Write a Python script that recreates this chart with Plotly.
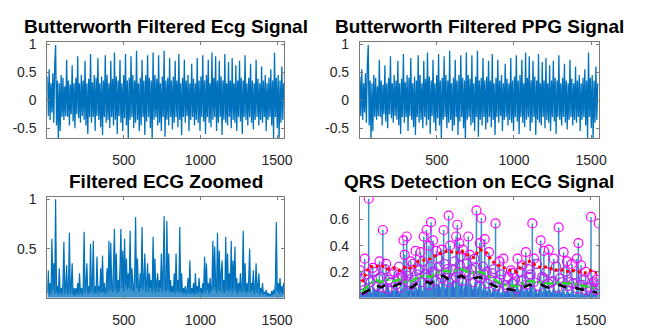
import plotly.graph_objects as go
from plotly.subplots import make_subplots

ecg_filtered = [
    0.42,-0.28,0.55,-0.35,0.30,-0.22,0.48,-0.40,0.62,0.98,
    -0.45,0.35,-0.72,0.30,-0.55,0.45,-0.30,0.40,-0.35,0.25,
    -0.28,0.72,-0.30,0.35,-0.45,0.28,-0.25,0.62,-0.38,0.30,
    -0.50,0.40,-0.25,0.78,-0.32,0.30,-0.40,0.45,-0.28,0.35,
    -0.35,0.70,-0.45,0.30,-0.60,0.38,-0.30,0.82,-0.40,0.32,
    -0.30,0.45,-0.55,0.40,-0.28,0.75,-0.35,0.30,-0.48,0.42,
    -0.62,0.35,-0.30,0.80,-0.40,0.45,-0.35,0.30,-0.50,0.70,
    -0.30,0.38,-0.45,0.85,-0.35,0.42,-0.60,0.35,-0.28,0.72,
    -0.40,0.30,-0.55,0.45,-0.32,0.82,-0.45,0.35,-0.68,0.40,
    -0.35,0.78,-0.30,0.45,-0.50,0.35,-0.40,0.88,-0.35,0.30,
    -0.55,0.40,-0.45,0.72,-0.30,0.35,-0.62,0.45,-0.38,0.80,
    -0.30,0.40,-0.50,0.35,-0.72,0.85,-0.35,0.45,-0.30,0.38,
    -0.45,0.80,-0.40,0.30,-0.55,0.42,-0.30,0.88,-0.65,0.35,
    -0.35,0.40,-0.45,0.75,-0.30,0.35,-0.52,0.42,-0.40,0.70,
    -0.30,0.35,-0.48,0.82,-0.35,0.30,-0.62,0.40,-0.30,0.72,
    -0.40,0.35,-0.28,0.45,-0.55,0.30,-0.35,0.65,-0.30,0.38,
    -0.45,0.30,-0.35,0.75,-0.40,0.35,-0.55,0.42,-0.30,0.80,
    -0.38,0.35,-0.60,0.45,-0.30,0.72,-0.40,0.30,-0.48,0.85,
    -0.35,0.40,-0.30,0.78,-0.55,0.35,-0.40,0.70,-0.30,0.42,
    -0.62,0.35,-0.35,0.82,-0.40,0.30,-0.45,0.68,-0.30,0.35,
    -0.50,0.75,-0.35,0.30,-0.40,0.62,-0.55,0.35,-0.30,0.70,
    -0.38,0.40,-0.60,0.35,-0.30,0.80,-0.35,0.30,-0.45,0.40,
    -0.30,0.65,-0.40,0.35,-0.52,0.30,-0.35,0.72,-0.30,0.38,
    -0.45,0.30,-0.35,0.60,-0.40,0.35,-0.30,0.45,-0.55,0.30,
    -0.35,0.40,-0.30,0.55,-0.45,0.35,-0.68,0.85,-0.30,0.40,
    -0.50,0.45,-0.72,0.35,-0.40,0.60,-0.35,0.30,
]
ppg_filtered = list(ecg_filtered)   # the PPG panel shows the same trace

ecg_zoomed = [
    0.05,0.28,0.03,0.15,0.04,0.60,0.08,0.35,0.04,1.00,
    0.06,0.12,0.03,0.30,0.05,0.10,0.03,0.15,0.57,0.04,
    0.12,0.33,0.03,0.10,0.66,0.04,0.12,0.35,0.03,0.10,
    0.02,0.10,0.04,0.15,0.03,0.25,0.05,0.10,0.03,0.12,
    0.67,0.05,0.15,0.35,0.04,0.12,0.05,0.55,0.06,0.15,
    0.58,0.04,0.12,0.05,0.42,0.04,0.12,0.06,0.30,0.05,
    0.43,0.06,0.15,0.04,0.10,0.30,0.05,0.58,0.08,0.56,
    0.10,0.06,0.35,0.70,0.08,0.45,0.05,0.18,0.06,0.30,
    0.70,0.10,0.48,0.06,0.60,0.12,0.40,0.08,0.25,0.10,
    0.68,0.08,0.30,0.12,0.06,0.25,0.82,0.10,0.40,0.12,
    0.06,0.25,0.10,0.72,0.08,0.20,0.45,0.06,0.15,0.35,
    0.06,0.25,0.10,0.18,0.05,0.62,0.08,0.40,0.05,0.15,
    0.25,0.06,0.18,0.10,0.45,0.06,0.30,0.83,0.10,0.06,
    0.78,0.08,0.45,0.06,0.18,0.05,0.12,0.06,0.25,0.04,
    0.45,0.06,0.18,0.05,0.72,0.06,0.25,0.04,0.10,0.05,
    0.12,0.03,0.08,0.20,0.04,0.38,0.04,0.10,0.05,0.15,
    0.03,0.25,0.05,0.12,0.04,0.20,0.06,0.10,0.03,0.15,
    0.06,0.42,0.05,0.35,0.08,0.15,0.04,0.20,0.06,0.12,
    0.58,0.08,0.52,0.12,0.05,0.66,0.08,0.48,0.06,0.25,
    0.38,0.06,0.18,0.05,0.62,0.08,0.45,0.06,0.25,0.08,
    0.58,0.05,0.38,0.08,0.52,0.06,0.20,0.04,0.15,0.08,
    0.25,0.05,0.12,0.68,0.06,0.35,0.04,0.15,0.06,0.20,
    0.50,0.05,0.15,0.08,0.28,0.04,0.10,0.35,0.05,0.12,
    0.25,0.03,0.10,0.05,0.15,0.03,0.06,0.04,0.08,0.02,
    0.05,0.02,0.04,0.02,0.07,0.03,0.08,0.04,0.15,0.77,
    0.06,0.15,0.04,0.20,0.05,0.12,0.03,0.15,
]
sample_step = 6

# QRS panel: integrated signal low band (every 15 samples)
int_base = [
    0.06,0.02,0.09,0.03,0.12,0.02,0.08,0.04,0.10,0.02,
    0.07,0.03,0.11,0.02,0.06,0.04,0.09,0.02,0.08,0.03,
    0.10,0.04,0.12,0.03,0.09,0.05,0.13,0.03,0.10,0.04,
    0.12,0.05,0.14,0.04,0.11,0.06,0.15,0.05,0.12,0.04,
    0.13,0.06,0.16,0.05,0.12,0.04,0.14,0.05,0.11,0.04,
    0.13,0.05,0.12,0.04,0.10,0.03,0.09,0.02,0.08,0.03,
    0.07,0.02,0.06,0.03,0.08,0.02,0.07,0.03,0.09,0.04,
    0.10,0.03,0.08,0.04,0.09,0.03,0.07,0.02,0.08,0.03,
    0.09,0.04,0.07,0.03,0.08,0.02,0.07,0.03,0.06,0.02,
    0.05,0.02,0.06,0.01,0.05,0.02,0.04,0.01,0.05,0.02,
    0.04,0.02,0.03,0.02,
]
int_step = 15

# detected peaks (magenta circles, with stems)
qrs_x = [2,32,58,85,128,150,171,224,271,284,292,305,331,363,395,416,434,449,463,476,
         498,532,545,577,587,626,634,647,669,705,716,758,780,790,812,839,882,908,933,
         982,993,1025,1057,1079,1121,1132,1175,1196,1228,1260,1292,1324,1346,1378,
         1410,1420,1438,1467,1502,1510,1538,1549,1553]
qrs_y = [0.21,0.30,0.76,0.23,0.28,0.52,0.26,0.20,0.17,0.44,0.33,0.47,0.28,0.36,0.35,0.47,
         0.52,0.40,0.58,0.44,0.36,0.37,0.52,0.63,0.40,0.47,0.56,0.42,0.37,0.47,0.33,0.67,
         0.42,0.61,0.45,0.35,0.57,0.28,0.30,0.21,0.19,0.30,0.25,0.35,0.57,0.30,0.44,0.36,
         0.37,0.30,0.54,0.35,0.28,0.26,0.30,0.42,0.25,0.20,0.62,0.17,0.14,0.07,0.57]

# smaller (noise) peaks, also marked with circles
noise_x = [10,40,70,95,120,145,165,190,210,235,255,280,300,320,345,370,390,410,440,460,
           485,510,525,550,570,595,615,640,655,680,695,725,745,770,800,825,850,870,895,
           920,945,965,1000,1040,1065,1095,1110,1150,1185,1210,1245,1275,1300,1335,1360,
           1395,1430,1455,1480,1520,1545,
           25,55,110,135,180,200,245,265,310,335,355,380,400,425,450,470,495,515,535,560,
           580,605,625,650,665,690,710,735,755,785,810,830,860,885,910,955,990,1020,1050,
           1080,1100,1130,1160,1195,1225,1255,1285,1315,1350,1385,1415,1445,1470,1500,1530]
noise_y = [0.10,0.18,0.12,0.20,0.15,0.08,0.22,0.14,0.18,0.10,0.24,0.16,0.20,0.12,0.26,
           0.18,0.22,0.28,0.16,0.24,0.20,0.30,0.18,0.26,0.22,0.14,0.28,0.20,0.32,0.18,
           0.26,0.22,0.30,0.16,0.24,0.20,0.14,0.22,0.12,0.18,0.10,0.16,0.12,0.20,0.14,
           0.22,0.18,0.26,0.16,0.20,0.12,0.24,0.15,0.20,0.12,0.18,0.10,0.14,0.08,0.12,0.10,
           0.06,0.14,0.09,0.16,0.07,0.12,0.15,0.08,0.17,0.10,0.14,0.21,0.12,0.18,0.10,0.20,
           0.13,0.24,0.15,0.19,0.12,0.22,0.16,0.25,0.13,0.20,0.17,0.12,0.23,0.15,0.18,0.11,
           0.19,0.09,0.14,0.08,0.11,0.07,0.13,0.10,0.16,0.12,0.09,0.15,0.11,0.13,0.08,0.12,
           0.09,0.11,0.07,0.10,0.06,0.08,0.06]

# adaptive levels at the peak locations
locs = [15,60,100,140,180,220,260,300,340,380,420,460,500,540,580,620,660,700,740,780,
        820,860,900,940,980,1020,1060,1100,1140,1180,1220,1260,1300,1340,1380,1420,1460,
        1500,1540]
noise_lvl = [0.03,0.06,0.10,0.08,0.11,0.09,0.11,0.09,0.08,0.12,0.13,0.11,0.15,0.17,0.14,
             0.15,0.17,0.14,0.15,0.16,0.13,0.10,0.08,0.07,0.065,0.055,0.08,0.10,0.09,0.10,
             0.08,0.09,0.10,0.08,0.085,0.07,0.06,0.045,0.04]
thr_lvl = [0.05,0.10,0.14,0.12,0.14,0.13,0.14,0.12,0.13,0.16,0.17,0.16,0.19,0.21,0.20,
           0.21,0.22,0.20,0.19,0.20,0.18,0.15,0.12,0.10,0.09,0.09,0.11,0.13,0.12,0.12,
           0.11,0.11,0.12,0.11,0.11,0.10,0.09,0.08,0.07]
sig_lvl = [0.12,0.24,0.24,0.25,0.22,0.23,0.21,0.24,0.22,0.28,0.29,0.30,0.33,0.35,0.36,
           0.34,0.36,0.33,0.31,0.37,0.35,0.28,0.25,0.23,0.21,0.20,0.26,0.28,0.25,0.23,
           0.24,0.21,0.22,0.20,0.21,0.20,0.19,0.21,0.19]

titles = ["Butterworth Filtered Ecg Signal", "Butterworth Filtered PPG Signal",
          "Filtered ECG Zoomed", "QRS Detection on ECG Signal"]

# ---------------- figure -------------
BLUE = "#0072BD"
FONT = "Liberation Sans, Arial, Helvetica, sans-serif"

fig = make_subplots(rows=2, cols=2)

xs6 = [1 + sample_step * i for i in range(len(ecg_filtered))]
fig.add_trace(go.Scatter(x=xs6, y=ecg_filtered, mode="lines",
                         line=dict(color=BLUE, width=1.3, simplify=False)), row=1, col=1)
fig.add_trace(go.Scatter(x=xs6, y=ppg_filtered, mode="lines",
                         line=dict(color=BLUE, width=1.3, simplify=False)), row=1, col=2)
xz = [1 + sample_step * i for i in range(len(ecg_zoomed))]
fig.add_trace(go.Scatter(x=xz, y=ecg_zoomed, mode="lines", fill="tozeroy",
                         fillcolor="rgba(0,114,189,0.75)",
                         line=dict(color=BLUE, width=1.2, simplify=False)), row=2, col=1)

# QRS panel
xb = [1 + int_step * i for i in range(len(int_base))]
fig.add_trace(go.Scatter(x=xb, y=int_base, mode="lines", fill="tozeroy",
                         fillcolor="#2f6fd6",
                         line=dict(color="#2f6fd6", width=1, simplify=False)),
              row=2, col=2)
stem_x, stem_y = [], []
for px, py in zip(qrs_x, qrs_y):
    stem_x += [px, px, None]
    stem_y += [0, py, None]
fig.add_trace(go.Scatter(x=stem_x, y=stem_y, mode="lines",
                         line=dict(color="#3a90c8", width=1.5)), row=2, col=2)
fig.add_trace(go.Scatter(x=noise_x, y=noise_y, mode="markers",
                         marker=dict(symbol="circle-open", size=9, color="#b42cf0",
                                     line=dict(width=1.3))), row=2, col=2)
fig.add_trace(go.Scatter(x=qrs_x, y=qrs_y, mode="markers",
                         marker=dict(symbol="circle-open", size=9, color="#ff00ff",
                                     line=dict(width=1.2))), row=2, col=2)
fig.add_trace(go.Scatter(x=locs, y=noise_lvl, mode="lines",
                         line=dict(color="black", width=2.5, dash="dash")), row=2, col=2)
fig.add_trace(go.Scatter(x=locs, y=thr_lvl, mode="lines",
                         line=dict(color="#22dd22", width=2.5, dash="dashdot")), row=2, col=2)
fig.add_trace(go.Scatter(x=locs, y=sig_lvl, mode="lines",
                         line=dict(color="#ff0000", width=3, dash="dot")), row=2, col=2)

W, H = 645, 328
dom_x = [(48 / W, 288 / W), (365 / W, 607 / W)]
dom_y = [(1 - 137 / H, 1 - 37 / H), (1 - 302 / H, 1 - 198 / H)]

axis_common = dict(showline=True, mirror="ticks", linecolor="#7a7a7a", linewidth=1,
                   ticks="inside", ticklen=3, tickcolor="#7a7a7a", showgrid=False,
                   zeroline=False,
                   tickfont=dict(family=FONT, size=14, color="#262626"))

yranges = [[-0.68, 1.04], [-0.68, 1.04], [0.0, 1.02], [0.0, 0.77]]
yticks = [[-0.5, 0, 0.5, 1], [-0.5, 0, 0.5, 1], [0.5, 1], [0.2, 0.4, 0.6]]
ytext = [["-0.5", "0", "0.5", "1"], ["-0.5", "0", "0.5", "1"], ["0.5", "1"],
         ["0.2", "0.4", "0.6"]]
xranges = [[1, 1545], [1, 1548], [1, 1545], [1, 1551]]

for k in range(4):
    r, c = divmod(k, 2)
    sfx = "" if k == 0 else str(k + 1)
    fig.layout["xaxis" + sfx].update(domain=dom_x[c], range=xranges[k],
                                     tickvals=[500, 1000, 1500], ticklabelstandoff=9,
                                     **axis_common)
    fig.layout["yaxis" + sfx].update(domain=dom_y[r], range=yranges[k],
                                     tickvals=yticks[k], ticktext=ytext[k],
                                     ticklabelstandoff=7, **axis_common)
    fig.add_annotation(text="<b>" + titles[k] + "</b>", xref="paper", yref="paper",
                       x=(dom_x[c][0] + dom_x[c][1]) / 2, y=dom_y[r][1],
                       xanchor="center", yanchor="bottom", yshift=3, showarrow=False,
                       font=dict(family=FONT, size=19, color="black"))

fig.update_layout(width=W, height=H, margin=dict(l=0, r=0, t=0, b=0),
                  paper_bgcolor="white", plot_bgcolor="white", showlegend=False)

fig.write_html("out.html", config={"displayModeBar": False},
               post_script="document.body.style.margin='0';"
                           "document.body.style.overflow='hidden';")
